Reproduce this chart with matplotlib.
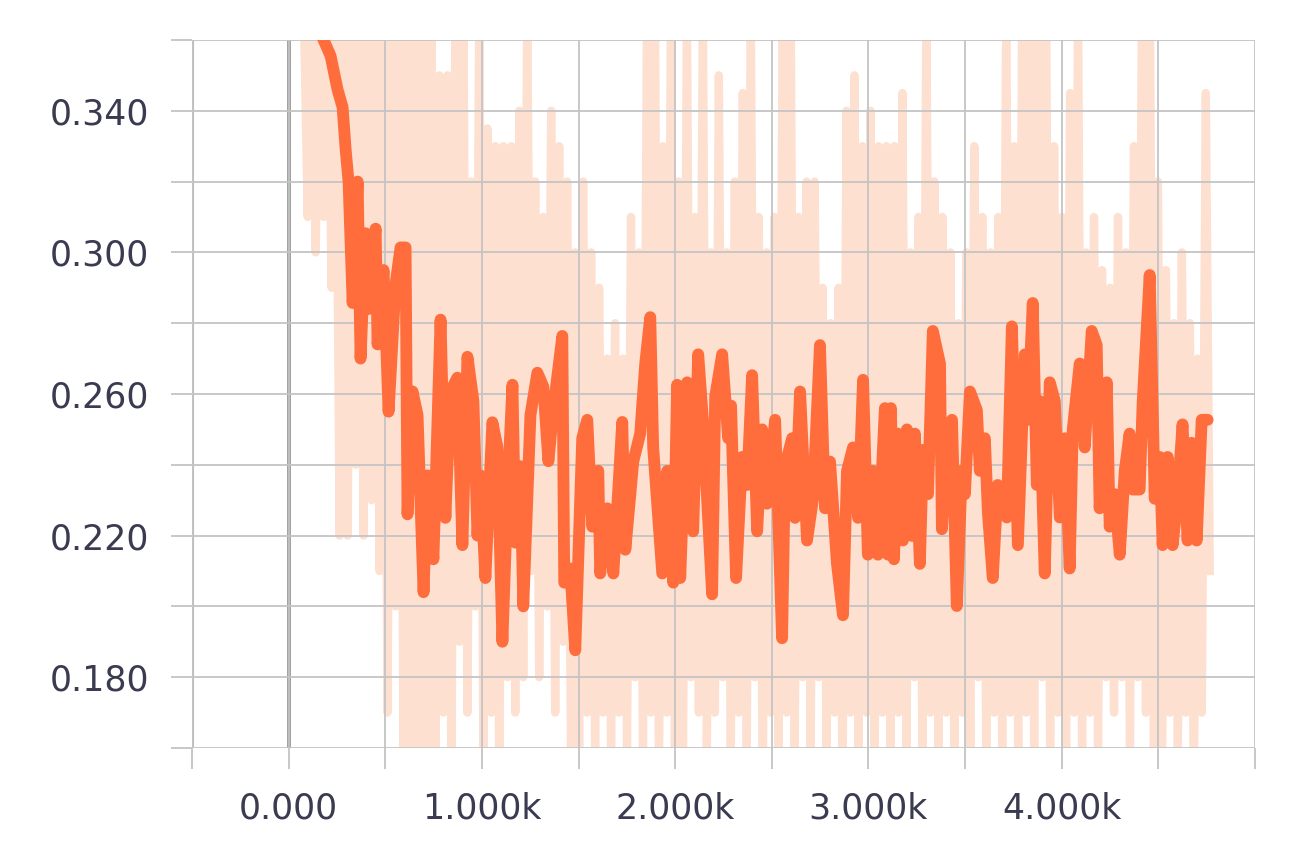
import numpy as np
import matplotlib.pyplot as plt

plt.rcParams["font.family"] = ["DejaVu Sans"]

# smoothed curve (steps, value)
smooth_steps = [165, 217, 253, 279, 295, 310, 331, 357, 372, 398, 413, 450, 460, 491, 517, 553,
                579, 605, 615, 641, 667, 698, 718, 749, 786, 811, 837, 873, 899, 925, 956, 977,
                992, 1018, 1054, 1080, 1106, 1132, 1158, 1173, 1199, 1214, 1251, 1287, 1318, 1344,
                1370, 1416, 1426, 1457, 1483, 1519, 1545, 1571, 1602, 1612, 1649, 1680, 1726, 1742,
                1783, 1819, 1845, 1871, 1886, 1933, 1959, 1990, 2010, 2026, 2062, 2093, 2119, 2145,
                2191, 2207, 2243, 2274, 2289, 2315, 2346, 2372, 2398, 2424, 2450, 2475, 2517, 2553,
                2568, 2605, 2620, 2646, 2682, 2713, 2749, 2775, 2801, 2837, 2868, 2889, 2920, 2946,
                2972, 2997, 3023, 3049, 3085, 3101, 3116, 3132, 3152, 3178, 3199, 3225, 3240, 3266,
                3282, 3308, 3333, 3370, 3380, 3406, 3432, 3457, 3483, 3499, 3525, 3561, 3576, 3602,
                3618, 3643, 3669, 3716, 3742, 3773, 3809, 3824, 3850, 3871, 3886, 3912, 3938, 3964,
                3990, 4016, 4041, 4057, 4093, 4119, 4155, 4181, 4196, 4233, 4248, 4274, 4300, 4326,
                4351, 4367, 4403, 4419, 4455, 4481, 4507, 4522, 4548, 4574, 4600, 4625, 4651, 4672,
                4698, 4724, 4755]
smooth_vals = [0.362, 0.3555, 0.346, 0.341, 0.329, 0.320, 0.2857, 0.320, 0.270, 0.3054, 0.284, 0.3067,
               0.274, 0.295, 0.255, 0.291, 0.3014, 0.3014, 0.226, 0.2607, 0.254, 0.204, 0.237, 0.2133,
               0.281, 0.225, 0.2607, 0.2646, 0.2173, 0.2705, 0.258, 0.220, 0.237, 0.208, 0.252, 0.245,
               0.190, 0.232, 0.2626, 0.218, 0.2396, 0.200, 0.254, 0.266, 0.262, 0.241, 0.256, 0.2764,
               0.2067, 0.2107, 0.1876, 0.2475, 0.2527, 0.2225, 0.2383, 0.2093, 0.2277, 0.2093, 0.2521,
               0.216, 0.2409, 0.2488, 0.2686, 0.2817, 0.2449, 0.2093, 0.2383, 0.2067, 0.2626, 0.208,
               0.2633, 0.2212, 0.2712, 0.2514, 0.2034, 0.2593, 0.2712, 0.2475, 0.2567, 0.208, 0.2422,
               0.2343, 0.2653, 0.2212, 0.250, 0.229, 0.2527, 0.191, 0.2396, 0.2475, 0.225, 0.2607,
               0.2186, 0.2304, 0.2738, 0.2277, 0.2409, 0.212, 0.1975, 0.2383, 0.2449, 0.225, 0.264,
               0.2146, 0.2383, 0.2146, 0.256, 0.2146, 0.256, 0.2133, 0.2488, 0.2186, 0.250, 0.2199,
               0.2488, 0.212, 0.2442, 0.2317, 0.2778, 0.2686, 0.2218, 0.2488, 0.2527, 0.2001, 0.2383,
               0.2317, 0.2607, 0.2554, 0.2383, 0.2475, 0.2264, 0.208, 0.2343, 0.2251, 0.2791, 0.2173,
               0.2712, 0.2527, 0.2857, 0.2343, 0.258, 0.2093, 0.2633, 0.258, 0.2251, 0.2475, 0.2107,
               0.250, 0.2686, 0.2449, 0.2778, 0.2738, 0.2277, 0.2633, 0.2225, 0.2317, 0.2146, 0.2383,
               0.2488, 0.233, 0.233, 0.258, 0.2936, 0.2304, 0.2422, 0.2173, 0.2422, 0.2173, 0.2317,
               0.2514, 0.2186, 0.2462, 0.2186, 0.2527, 0.2527]

# raw curve, logged at regular steps
raw_first_step = 78
raw_last_step = 4766
raw_vals = [0.37, 0.31, 0.37, 0.30, 0.37, 0.31, 0.37, 0.29, 0.37, 0.22, 0.37, 0.22, 0.37, 0.24,
            0.37, 0.22, 0.37, 0.23, 0.37, 0.21, 0.37, 0.17, 0.37, 0.20, 0.37, 0.16, 0.37, 0.15,
            0.37, 0.15, 0.37, 0.16, 0.37, 0.15, 0.35, 0.17, 0.35, 0.15, 0.37, 0.19, 0.37, 0.17,
            0.32, 0.20, 0.37, 0.16, 0.335, 0.17, 0.33, 0.15, 0.33, 0.18, 0.33, 0.17, 0.34, 0.18,
            0.37, 0.21, 0.32, 0.18, 0.31, 0.20, 0.34, 0.17, 0.33, 0.19, 0.32, 0.15, 0.30, 0.16,
            0.32, 0.17, 0.30, 0.16, 0.29, 0.17, 0.27, 0.16, 0.28, 0.17, 0.27, 0.16, 0.31, 0.18,
            0.30, 0.16, 0.37, 0.17, 0.37, 0.15, 0.33, 0.17, 0.37, 0.16, 0.32, 0.15, 0.37, 0.18,
            0.31, 0.17, 0.37, 0.16, 0.30, 0.17, 0.35, 0.18, 0.30, 0.16, 0.32, 0.17, 0.345, 0.16,
            0.37, 0.18, 0.31, 0.15, 0.30, 0.17, 0.31, 0.16, 0.37, 0.17, 0.37, 0.16, 0.31, 0.18,
            0.32, 0.16, 0.32, 0.18, 0.29, 0.16, 0.28, 0.17, 0.29, 0.15, 0.34, 0.17, 0.35, 0.16,
            0.33, 0.17, 0.34, 0.15, 0.33, 0.17, 0.33, 0.16, 0.33, 0.17, 0.345, 0.16, 0.30, 0.18,
            0.31, 0.16, 0.37, 0.17, 0.32, 0.16, 0.31, 0.17, 0.30, 0.16, 0.28, 0.17, 0.30, 0.16,
            0.33, 0.18, 0.31, 0.16, 0.30, 0.17, 0.31, 0.16, 0.37, 0.17, 0.33, 0.16, 0.37, 0.17,
            0.36, 0.16, 0.37, 0.18, 0.37, 0.16, 0.33, 0.17, 0.31, 0.16, 0.345, 0.17, 0.37, 0.16,
            0.30, 0.17, 0.31, 0.16, 0.295, 0.18, 0.29, 0.17, 0.31, 0.18, 0.30, 0.16, 0.33, 0.18,
            0.37, 0.17, 0.37, 0.16, 0.32, 0.15, 0.295, 0.17, 0.28, 0.16, 0.30, 0.17, 0.28, 0.15,
            0.27, 0.17, 0.345, 0.21]

x_ticks = [-500, 0, 500, 1000, 1500, 2000, 2500, 3000, 3500, 4000, 4500, 5000]
x_labels = ["", "0.000", "", "1.000k", "", "2.000k", "", "3.000k", "", "4.000k", "", ""]
y_ticks = [0.16, 0.18, 0.20, 0.22, 0.24, 0.26, 0.28, 0.30, 0.32, 0.34, 0.36]
y_labels = ["", "0.180", "", "0.220", "", "0.260", "", "0.300", "", "0.340", ""]

raw_steps = np.linspace(raw_first_step, raw_last_step, len(raw_vals))

fig = plt.figure(figsize=(13, 8.56), dpi=100)
ax = fig.add_axes([0.1477, 0.1262, 0.8177, 0.8271])

ax.plot(raw_steps, raw_vals, color="#fde0d0", linewidth=6, zorder=1)
ax.plot(smooth_steps, smooth_vals, color="#ff6d3c", linewidth=8.5, zorder=3,
        solid_joinstyle="round", solid_capstyle="round")

ax.set_xlim(-500, 5000)
ax.set_ylim(0.16, 0.36)
ax.set_xticks(x_ticks)
ax.set_xticklabels(x_labels)
ax.set_yticks(y_ticks)
ax.set_yticklabels(y_labels)
ax.set_axisbelow(False)
ax.grid(True, color="#c4c4c4", linewidth=1.3, zorder=2)
ax.axvline(0, color="#8c8c8c", linewidth=2.6, zorder=2.5)
ax.axvline(-500, color="#bdbdbd", linewidth=2.2, zorder=2.5)

for s in ax.spines.values():
    s.set_visible(False)
ax.tick_params(axis="both", length=15, width=1.3, color="#c4c4c4",
               labelsize=25, labelcolor="#3a3a50", pad=16)

fig.savefig("out.png", dpi=100)
